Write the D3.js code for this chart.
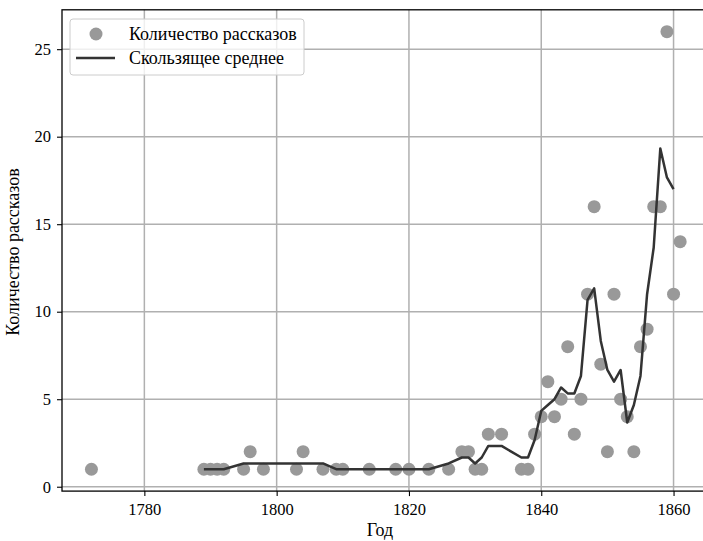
<!DOCTYPE html>
<html>
<head>
<meta charset="utf-8">
<script src="https://cdn.jsdelivr.net/npm/d3@7"></script>
<style>
  body { margin: 0; background: #fff; }
  svg { display: block; font-family: "Liberation Serif", "Times New Roman", serif; }
</style>
</head>
<body>
<svg id="chart" width="703" height="541"></svg>
<script>
// years and story counts (scatter)
var years = [1772, 1789, 1790, 1791, 1792, 1795, 1796, 1798, 1803, 1804, 1807, 1809, 1810, 1814,
  1818, 1820, 1823, 1826, 1828, 1829, 1830, 1831, 1832, 1834, 1837, 1838, 1839, 1840, 1841,
  1842, 1843, 1844, 1845, 1846, 1847, 1848, 1849, 1850, 1851, 1852, 1853, 1854, 1855, 1856,
  1857, 1858, 1859, 1860, 1861];
var counts = [1, 1, 1, 1, 1, 1, 2, 1, 1, 2, 1, 1, 1, 1,
  1, 1, 1, 1, 2, 2, 1, 1, 3, 3, 1, 1, 3, 4, 6,
  4, 5, 8, 3, 5, 11, 16, 7, 2, 11, 5, 4, 2, 8, 9,
  16, 16, 26, 11, 14];

// moving average, years 1789..1860
var maYears = years.slice(1, years.length - 1);
var maValues = [1, 1, 1, 1, 1.33, 1.33, 1.33, 1.33, 1.33, 1.33, 1, 1, 1,
  1, 1, 1, 1.33, 1.67, 1.67, 1.33, 1.67, 2.33, 2.33, 1.67, 1.67, 2.67, 4.33,
  4.67, 5, 5.67, 5.33, 5.33, 6.33, 10.67, 11.33, 8.33, 6.67, 6, 6.67, 3.67, 4.67,
  6.33, 11, 13.67, 19.33, 17.67, 17];

var xTicks = [1780, 1800, 1820, 1840, 1860];
var yTicks = [0, 5, 10, 15, 20, 25];

var svg = d3.select("#chart");
var mLeft = 62, mRight = 709.6, mTop = 9.8, mBottom = 491.1;

var x = d3.scaleLinear().domain([1767.55, 1865.45]).range([mLeft, mRight]);
var y = d3.scaleLinear().domain([-0.25, 27.25]).range([mBottom, mTop]);

// grid
var grid = svg.append("g").attr("class", "grid");
grid.selectAll("line.gx")
  .data(xTicks)
  .enter().append("line")
  .attr("x1", function(d) { return x(d); })
  .attr("x2", function(d) { return x(d); })
  .attr("y1", mTop).attr("y2", mBottom)
  .style("stroke", "#b0b0b0").style("stroke-width", 1.5);
grid.selectAll("line.gy")
  .data(yTicks)
  .enter().append("line")
  .attr("x1", mLeft).attr("x2", mRight)
  .attr("y1", function(d) { return y(d); })
  .attr("y2", function(d) { return y(d); })
  .style("stroke", "#b0b0b0").style("stroke-width", 1.5);

// points
svg.append("g")
  .attr("class", "points")
  .selectAll("circle")
  .data(years)
  .enter().append("circle")
  .attr("cx", function(d) { return x(d); })
  .attr("cy", function(d, i) { return y(counts[i]); })
  .attr("r", 6.5)
  .style("fill", "#999999");

// moving average
var line = d3.line()
  .x(function(d) { return x(d); })
  .y(function(d, i) { return y(maValues[i]); });
svg.append("path")
  .datum(maYears)
  .attr("d", line)
  .style("fill", "none")
  .style("stroke", "#333333")
  .style("stroke-width", 2.5)
  .style("stroke-linejoin", "round");

// axes
var xAxis = d3.axisBottom(x).tickValues(xTicks).tickSize(5).tickPadding(7).tickFormat(d3.format("d"));
var yAxis = d3.axisLeft(y).tickValues(yTicks).tickSize(5).tickPadding(6);

var gx = svg.append("g").attr("transform", "translate(0," + mBottom + ")").call(xAxis);
var gy = svg.append("g").attr("transform", "translate(" + mLeft + ",0)").call(yAxis);
[gx, gy].forEach(function(g) {
  g.attr("font-family", null);
  g.select(".domain").remove();
  g.selectAll(".tick line").style("stroke", "#000").style("stroke-width", 1.1);
  g.selectAll(".tick text").style("font-size", "16.5px").style("fill", "#000");
});

// spines
svg.append("rect")
  .attr("x", mLeft).attr("y", mTop)
  .attr("width", mRight - mLeft).attr("height", mBottom - mTop)
  .style("fill", "none").style("stroke", "#000").style("stroke-width", 1.3);

// axis labels
svg.append("text")
  .attr("x", 380).attr("y", 536)
  .attr("text-anchor", "middle")
  .style("font-size", "18px")
  .text("Год");
svg.append("text")
  .attr("transform", "translate(19,252) rotate(-90)")
  .attr("text-anchor", "middle")
  .style("font-size", "18px")
  .text("Количество рассказов");

// legend
var legend = svg.append("g").attr("class", "legend");
legend.append("rect")
  .attr("x", 70).attr("y", 19).attr("width", 234).attr("height", 56)
  .attr("rx", 3)
  .style("fill", "#fff").style("fill-opacity", 0.8)
  .style("stroke", "#cccccc").style("stroke-width", 1);
legend.append("circle")
  .attr("cx", 96).attr("cy", 34).attr("r", 6.5)
  .style("fill", "#999999");
legend.append("line")
  .attr("x1", 76).attr("x2", 115).attr("y1", 58).attr("y2", 58)
  .style("stroke", "#333333").style("stroke-width", 2.5);
legend.append("text")
  .attr("x", 129).attr("y", 40)
  .style("font-size", "18px")
  .text("Количество рассказов");
legend.append("text")
  .attr("x", 129).attr("y", 64)
  .style("font-size", "18px")
  .text("Скользящее среднее");
</script>
</body>
</html>
